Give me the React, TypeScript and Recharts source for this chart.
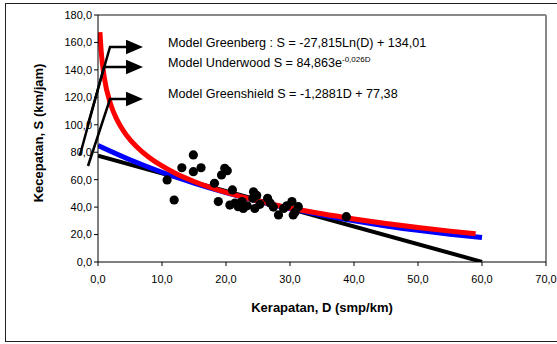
import {
  ComposedChart,
  Line,
  ReferenceLine,
  Scatter,
  XAxis,
  YAxis,
} from 'recharts';

// observed points (density D, speed S)
const obsD = [
  10.8, 11.9, 13.1, 14.9, 14.9, 16.1, 18.2, 18.8, 19.3, 19.8, 20.2, 20.6, 21.0, 21.4, 21.9, 22.5, 22.7,
  23.3, 24.2, 24.3, 24.5, 24.8, 25.3, 26.5, 26.9, 27.4, 28.2, 29.0, 29.5, 30.3, 30.5, 30.8, 31.3, 38.8,
];
const obsS = [
  59.8, 45.2, 68.7, 78.0, 65.8, 68.7, 57.4, 44.0, 63.4, 68.3, 66.5, 41.5, 52.5, 43.0, 40.3, 44.0, 39.0,
  41.0, 46.5, 51.2, 39.0, 48.5, 42.0, 46.4, 43.0, 40.0, 34.3, 39.0, 41.0, 44.0, 34.3, 36.5, 40.3, 33.0,
];

// Greenberg trend (red)
const greenbergD = [0.3, 0.5, 1, 2, 3, 4, 5, 6, 8, 10, 12, 15, 20, 25, 30, 35, 40, 45, 50, 55, 59];
const greenbergS = [
  167.5, 153.3, 134.0, 114.7, 103.4, 95.4, 89.2, 84.2, 76.2, 70.0, 64.9, 58.7, 50.7, 44.5, 39.4, 35.1,
  31.4, 28.1, 25.2, 22.5, 20.6,
];

// Underwood trend (blue)
const underwoodD = [0, 5, 10, 15, 20, 25, 30, 35, 40, 45, 50, 55, 60];
const underwoodS = [84.9, 74.5, 65.4, 57.5, 50.5, 44.3, 38.9, 34.2, 30.0, 26.3, 23.1, 20.3, 17.8];

// Greenshield trend (black)
const greenshieldD = [0, 60];
const greenshieldS = [77.4, 0.1];

const xTicks = [0, 10, 20, 30, 40, 50, 60, 70];
const yTicks = [0, 20, 40, 60, 80, 100, 120, 140, 160, 180];

const toRows = (d: number[], s: number[]) => d.map((v, i) => ({ d: v, s: s[i] }));
const fmt = (v: number) => v.toFixed(1).replace('.', ',');

const font = 'Arial, "Liberation Sans", sans-serif';
const tickStyle = { fontSize: 11, fill: '#000', fontFamily: font };

const App = () => {
  const obs = toRows(obsD, obsS);
  const greenberg = toRows(greenbergD, greenbergS);
  const underwood = toRows(underwoodD, underwoodS);
  const greenshield = toRows(greenshieldD, greenshieldS);

  return (
    <div style={{ position: 'absolute', left: 0, top: 0, width: 557, height: 344, background: '#fff', overflow: 'hidden' }}>
      <div
        style={{
          position: 'absolute',
          left: 5,
          top: 3,
          width: 560,
          height: 337,
          border: '1px solid #222',
        }}
      />
      <ComposedChart
        width={557}
        height={344}
        margin={{ top: 15, right: 11, left: 0, bottom: 52 }}
        style={{ position: 'absolute', left: 0, top: 0 }}
      >
        <XAxis
          type="number"
          dataKey="d"
          domain={[0, 70]}
          ticks={xTicks}
          tickFormatter={fmt}
          tick={tickStyle}
          tickSize={4}
          tickMargin={9}
          height={30}
          stroke="#000"
          allowDataOverflow
        />
        <YAxis
          type="number"
          dataKey="s"
          domain={[0, 180]}
          ticks={yTicks}
          tickFormatter={fmt}
          tick={tickStyle}
          tickSize={4}
          tickMargin={2}
          width={98}
          stroke="#000"
          allowDataOverflow
        />
        <ReferenceLine y={180} stroke="#888" strokeWidth={2} />
        <ReferenceLine x={70} stroke="#888" strokeWidth={2} />
        <Scatter
          data={obs}
          isAnimationActive={false}
          shape={(p: any) => <circle cx={p.cx} cy={p.cy} r={4.6} fill="#000" />}
        />
        <Line
          data={greenshield}
          dataKey="s"
          type="linear"
          stroke="#000"
          strokeWidth={4}
          dot={false}
          isAnimationActive={false}
        />
        <Line
          data={underwood}
          dataKey="s"
          type="monotone"
          stroke="#0000ff"
          strokeWidth={5}
          dot={false}
          isAnimationActive={false}
        />
        <Line
          data={greenberg}
          dataKey="s"
          type="monotone"
          stroke="#ff0000"
          strokeWidth={5}
          dot={false}
          isAnimationActive={false}
        />
      </ComposedChart>
      <svg
        width={557}
        height={344}
        style={{ position: 'absolute', left: 0, top: 0, pointerEvents: 'none' }}
        fontFamily={font}
      >
        <defs>
          <marker id="head" markerWidth="8" markerHeight="6" refX="1" refY="3" orient="auto" markerUnits="strokeWidth">
            <path d="M0,0 L7,3 L0,6 Z" fill="#000" />
          </marker>
        </defs>
        <polyline points="88,124 110,47 128,47" fill="none" stroke="#000" strokeWidth={2.5} markerEnd="url(#head)" />
        <polyline points="80,155 104,67 128,67" fill="none" stroke="#000" strokeWidth={2.5} markerEnd="url(#head)" />
        <polyline points="88,166 110,99 128,99" fill="none" stroke="#000" strokeWidth={2.5} markerEnd="url(#head)" />
        <text x={168} y={47} fontSize={12.6} fill="#000">
          Model Greenberg : S = -27,815Ln(D) + 134,01
        </text>
        <text x={168} y={67} fontSize={12.6} fill="#000">
          Model Underwood S = 84,863e
          <tspan dy={-5} fontSize={8}>
            -0,026D
          </tspan>
        </text>
        <text x={168} y={98} fontSize={12.6} fill="#000">
          Model Greenshield S = -1,2881D + 77,38
        </text>
        <text x={322} y={312} fontSize={13} fontWeight="bold" textAnchor="middle" fill="#000">
          Kerapatan, D (smp/km)
        </text>
        <text
          x={38}
          y={133}
          fontSize={13}
          fontWeight="bold"
          textAnchor="middle"
          dominantBaseline="central"
          transform="rotate(-90 38 133)"
          fill="#000"
        >
          Kecepatan, S (km/jam)
        </text>
      </svg>
    </div>
  );
};

export default App;
